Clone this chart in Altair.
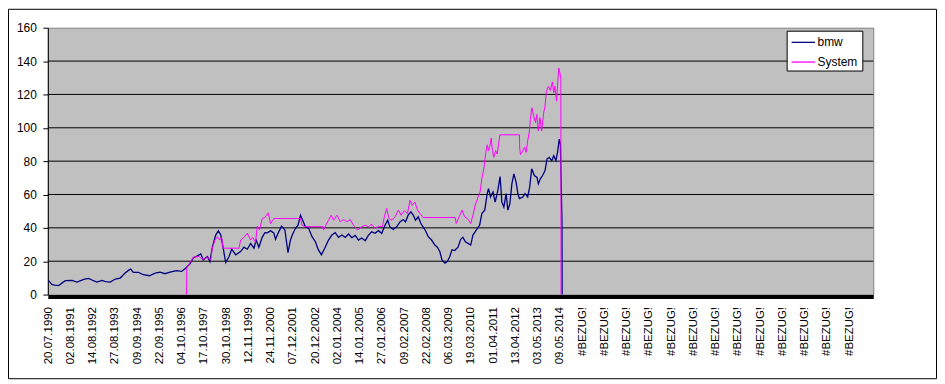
import json
import altair as alt
import pandas as pd

# ---------------- data ----------------
date_labels = ["20.07.1990", "02.08.1991", "14.08.1992", "27.08.1993", "09.09.1994",
               "22.09.1995", "04.10.1996", "17.10.1997", "30.10.1998", "12.11.1999",
               "24.11.2000", "07.12.2001", "20.12.2002", "02.01.2004", "14.01.2005",
               "27.01.2006", "09.02.2007", "22.02.2008", "06.03.2009", "19.03.2010",
               "01.04.2011", "13.04.2012", "03.05.2013", "09.05.2014"]
x_labels = date_labels + ["#BEZUG!"] * 13

series_names = ["bmw", "System"]
series_colors = ["#000080", "#FF00FF"]

# position along the category axis, in label steps (label i sits at i)
bmw_t = [0.01, 0.18, 0.30, 0.48, 0.63, 0.78, 1.07, 1.30, 1.60, 1.82,
         2.04, 2.19, 2.42, 2.58, 2.79, 3.02, 3.24, 3.46, 3.61, 3.71,
         3.83, 4.06, 4.28, 4.55, 4.81, 5.03, 5.25, 5.48, 5.77, 6.00,
         6.19, 6.37, 6.52, 6.71, 6.86, 6.97, 7.16, 7.27, 7.38, 7.53,
         7.65, 7.76, 7.83, 7.98, 8.13, 8.25, 8.43, 8.65, 8.80, 8.95,
         9.10, 9.25, 9.35, 9.47, 9.62, 9.74, 9.84, 10.00, 10.14, 10.22,
         10.34, 10.49, 10.64, 10.78, 10.89, 10.99, 11.11, 11.23, 11.34, 11.44,
         11.56, 11.71, 11.86, 12.01, 12.13, 12.28, 12.43, 12.60, 12.75, 12.90,
         13.05, 13.20, 13.35, 13.50, 13.65, 13.80, 13.95, 14.09, 14.25, 14.39,
         14.54, 14.69, 14.84, 14.99, 15.14, 15.26, 15.36, 15.51, 15.66, 15.81,
         15.96, 16.06, 16.18, 16.30, 16.41, 16.51, 16.63, 16.75, 16.85, 16.96,
         17.08, 17.23, 17.38, 17.49, 17.60, 17.70, 17.83, 17.94, 18.05, 18.15,
         18.27, 18.42, 18.54, 18.64, 18.75, 18.87, 18.99, 19.09, 19.24, 19.39,
         19.49, 19.62, 19.73, 19.79, 19.88, 19.99, 20.09, 20.21, 20.31, 20.39,
         20.48, 20.58, 20.66, 20.75, 20.84, 20.93, 21.03, 21.11, 21.18, 21.33,
         21.43, 21.55, 21.64, 21.73, 21.85, 21.97, 22.03, 22.12, 22.22, 22.33,
         22.42, 22.52, 22.63, 22.72, 22.82, 22.89, 22.97, 23.02, 23.09, 23.10]
bmw_v = [8.5, 6.0, 5.6, 5.4, 7.0, 8.3, 8.5, 7.5, 9.1, 9.7,
         8.3, 7.5, 8.5, 7.8, 7.5, 9.3, 9.9, 12.9, 14.5, 15.3,
         13.3, 13.3, 11.9, 11.3, 12.9, 13.5, 12.5, 13.5, 14.3, 13.9,
         15.9, 18.4, 22.0, 23.2, 24.4, 20.8, 22.8, 19.8, 28.4, 35.7,
         38.2, 35.7, 30.7, 19.2, 22.8, 27.2, 23.8, 25.8, 28.4, 27.2,
         30.7, 27.8, 32.7, 28.4, 34.3, 37.1, 37.0, 38.2, 37.0, 33.1,
         37.0, 41.0, 38.7, 25.2, 32.7, 36.3, 39.6, 41.6, 47.6, 44.6,
         40.6, 39.6, 34.7, 31.7, 27.2, 23.8, 27.8, 32.7, 35.7, 37.1,
         34.3, 35.7, 34.3, 36.3, 34.1, 35.5, 32.7, 33.9, 32.3, 35.5,
         37.7, 36.7, 38.3, 36.7, 41.6, 44.6, 40.6, 39.0, 40.6, 43.6,
         45.0, 43.6, 47.6, 49.6, 47.6, 44.6, 46.6, 42.6, 40.6, 38.3,
         34.7, 32.7, 29.7, 28.4, 25.8, 20.8, 18.8, 19.8, 22.8, 26.8,
         26.4, 28.4, 33.1, 34.3, 31.7, 30.7, 29.7, 35.7, 38.7, 41.6,
         48.6, 50.6, 60.5, 63.5, 58.5, 61.5, 55.5, 62.5, 70.8, 55.5,
         52.5, 60.5, 50.6, 54.5, 66.4, 72.4, 67.4, 60.5, 57.5, 58.5,
         60.5, 58.5, 64.4, 75.4, 71.4, 70.2, 66.4, 69.4, 71.4, 74.3,
         81.3, 82.3, 80.3, 83.3, 80.3, 85.3, 93.2, 90.0, 44.6, 0.0]

sys_t = [6.22, 6.23, 6.34, 6.52, 6.79, 6.86, 7.01, 7.16, 7.31, 7.38,
         7.50, 7.61, 7.71, 7.80, 7.86, 8.58, 8.65, 8.80, 8.95, 9.10,
         9.20, 9.32, 9.40, 9.50, 9.62, 9.74, 9.89, 10.00, 10.10, 10.14,
         11.34, 11.41, 11.53, 12.34, 12.38, 12.48, 12.60, 12.72, 12.83, 12.98,
         13.13, 13.28, 13.42, 13.57, 13.72, 13.91, 14.09, 14.25, 14.39, 14.54,
         14.69, 14.84, 15.02, 15.11, 15.21, 15.32, 15.44, 15.59, 15.74, 15.86,
         16.00, 16.15, 16.26, 16.36, 16.48, 16.60, 16.71, 16.85, 18.29, 18.34,
         18.50, 18.60, 18.72, 18.84, 18.99, 19.09, 19.19, 19.32, 19.41, 19.49,
         19.58, 19.66, 19.73, 19.79, 19.85, 19.91, 19.97, 20.03, 20.11, 20.18,
         20.24, 20.30, 21.18, 21.19, 21.23, 21.33, 21.41, 21.48, 21.55, 21.63,
         21.67, 21.74, 21.82, 21.90, 21.96, 22.03, 22.10, 22.18, 22.27, 22.33,
         22.39, 22.48, 22.57, 22.66, 22.72, 22.77, 22.85, 22.89, 22.95, 23.00,
         23.04, 23.05]
sys_v = [0.0, 16.0, 18.4, 22.4, 22.8, 21.8, 21.2, 22.4, 20.8, 27.8,
         32.7, 34.7, 32.7, 34.3, 27.8, 27.8, 32.7, 34.3, 36.7, 32.7,
         34.3, 31.3, 41.0, 38.7, 45.6, 46.2, 49.0, 42.6, 44.6, 45.6,
         45.6, 41.6, 40.7, 40.7, 38.7, 41.6, 44.6, 47.6, 44.6, 47.6,
         43.6, 45.0, 43.6, 45.0, 41.6, 38.7, 40.6, 41.6, 40.6, 42.2,
         39.6, 41.0, 40.6, 46.6, 51.6, 45.6, 44.6, 46.6, 50.6, 47.6,
         50.2, 48.6, 56.5, 53.5, 55.5, 50.6, 48.6, 46.2, 46.2, 42.6,
         47.6, 50.6, 46.6, 45.6, 42.6, 47.6, 53.5, 58.5, 61.5, 69.4,
         75.4, 84.3, 89.8, 86.3, 89.2, 93.8, 86.3, 82.3, 86.3, 84.3,
         89.8, 95.8, 95.8, 88.0, 83.9, 86.3, 88.3, 85.3, 92.2, 98.1,
         105.0, 112.0, 107.0, 103.1, 108.0, 98.1, 106.0, 98.1, 109.0, 113.0,
         121.9, 124.9, 122.3, 127.5, 121.0, 124.9, 116.0, 125.5, 135.8, 132.8,
         129.8, 0.0]

y_ticks = [0, 20, 40, 60, 80, 100, 120, 140, 160]
grid_values = [20, 40, 60, 80, 100, 120, 140]

# ---------------- tables ----------------
bmw_df = pd.DataFrame({"t": bmw_t, "v": bmw_v})
bmw_df["series"] = series_names[0]
bmw_df["i"] = range(len(bmw_df))
sys_df = pd.DataFrame({"t": sys_t, "v": sys_v})
sys_df["series"] = series_names[1]
sys_df["i"] = range(len(sys_df))
grid_df = pd.DataFrame({"v": grid_values})
one = pd.DataFrame({"a": [0]})

W, H = 829, 268
FONT = "Liberation Sans"

x_scale = alt.Scale(domain=[-0.013, 37.08], nice=False, zero=False)
y_scale = alt.Scale(domain=[0, 160], nice=False, zero=True)

label_expr = json.dumps(x_labels) + "[round(datum.value)]"
x_axis = alt.Axis(values=list(range(len(x_labels))), labelExpr=label_expr,
                  labelAngle=270, labelFont=FONT, labelFontSize=11.5, labelColor="black",
                  labelOverlap=False, labelPadding=10, ticks=False, tickSize=0,
                  domainColor="black", domainWidth=4, offset=2, grid=False,
                  title=None, zindex=1)
y_axis = alt.Axis(values=y_ticks, labelFont=FONT, labelFontSize=12, labelColor="black",
                  labelPadding=6.5, tickSize=5, tickColor="black", domainColor="black",
                  labelOverlap=False, grid=False, title=None)
color = alt.Color("series:N", scale=alt.Scale(domain=series_names, range=series_colors),
                  legend=None)

grid = alt.Chart(grid_df).mark_rule(color="black", strokeWidth=1).encode(
    y=alt.Y("v:Q", scale=y_scale, axis=y_axis))

def line_layer(df, width):
    return alt.Chart(df).mark_line(strokeWidth=width, interpolate="linear").encode(
        x=alt.X("t:Q", scale=x_scale, axis=x_axis),
        y=alt.Y("v:Q", scale=y_scale, axis=y_axis),
        color=color,
        order="i:Q")

bmw_line = line_layer(bmw_df, 1.3)
sys_line = line_layer(sys_df, 1.0)

# legend (drawn as a boxed key in the upper right of the plot)
legend_box = alt.Chart(one).mark_rect(fill="white", stroke="black", strokeWidth=1).encode(
    x=alt.value(742.5), x2=alt.value(818.5), y=alt.value(3.5), y2=alt.value(43.5))
legend_layers = [legend_box]
row_y = [14.7, 34.5]
for name, col, ry in zip(series_names, series_colors, row_y):
    legend_layers.append(alt.Chart(one).mark_rule(color=col, strokeWidth=1.3).encode(
        x=alt.value(747), x2=alt.value(770.5), y=alt.value(ry)))
    legend_layers.append(alt.Chart(one).mark_text(
        text=name, font=FONT, fontSize=12, color="black", align="left", baseline="middle"
    ).encode(x=alt.value(773), y=alt.value(ry)))

border = alt.Chart(one).mark_rect(fillOpacity=0, stroke="black", strokeWidth=1).encode(
    x=alt.value(-39.5), x2=alt.value(892.5), y=alt.value(-18.5), y2=alt.value(352.5))

chart = alt.layer(grid, bmw_line, sys_line, *legend_layers, border).properties(
    width=W, height=H,
    autosize=alt.AutoSizeParams(type="none"),
    padding={"left": 40, "top": 19, "right": 64, "bottom": 85},
    background="white",
).configure_view(fill="#C0C0C0", stroke="#808080", strokeWidth=1)

chart.save("out.html", embed_options={"renderer": "svg", "actions": False})
